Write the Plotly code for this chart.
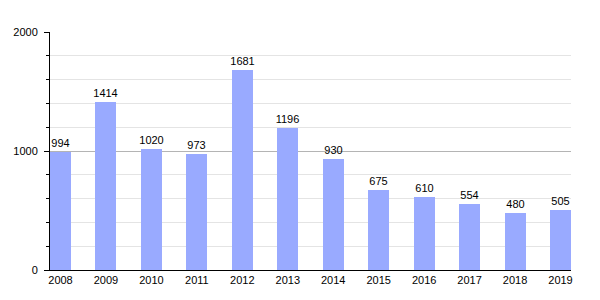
import plotly.graph_objects as go

years = ["2008", "2009", "2010", "2011", "2012", "2013", "2014", "2015", "2016", "2017", "2018", "2019"]
values = [994, 1414, 1020, 973, 1681, 1196, 930, 675, 610, 554, 480, 505]

fig = go.Figure(go.Bar(
    x=years, y=values,
    marker=dict(color="#99aaff", line=dict(width=0)),
    width=0.462,
    text=[str(v) for v in values],
    textposition="outside",
    textfont=dict(size=11, color="black"),
    cliponaxis=False,
))

fig.update_layout(
    width=600, height=300,
    margin=dict(l=50, r=29, t=32, b=30),
    paper_bgcolor="white", plot_bgcolor="white",
    font=dict(family="Liberation Sans, Arial, sans-serif", size=11, color="black"),
    showlegend=False,
    bargap=0,
    uniformtext=dict(minsize=11, mode="show"),
)
fig.update_xaxes(
    type="category", range=[-0.231, 11.231],
    showline=True, linecolor="black", linewidth=1,
    ticks="", showgrid=False, tickfont=dict(size=11),
)
fig.update_yaxes(
    range=[0, 2000], tickvals=[0, 1000, 2000],
    showline=True, linecolor="black", linewidth=1,
    ticks="outside", ticklen=5, tickcolor="black",
    ticklabelstandoff=4,
    showgrid=True, gridcolor="#b4b4b4", gridwidth=1,
    zeroline=False, tickfont=dict(size=11),
    minor=dict(dtick=200, tick0=0, ticks="outside", ticklen=3, tickcolor="black",
               showgrid=True, gridcolor="#e4e4e4", gridwidth=1),
)

fig.write_html("out.html")
